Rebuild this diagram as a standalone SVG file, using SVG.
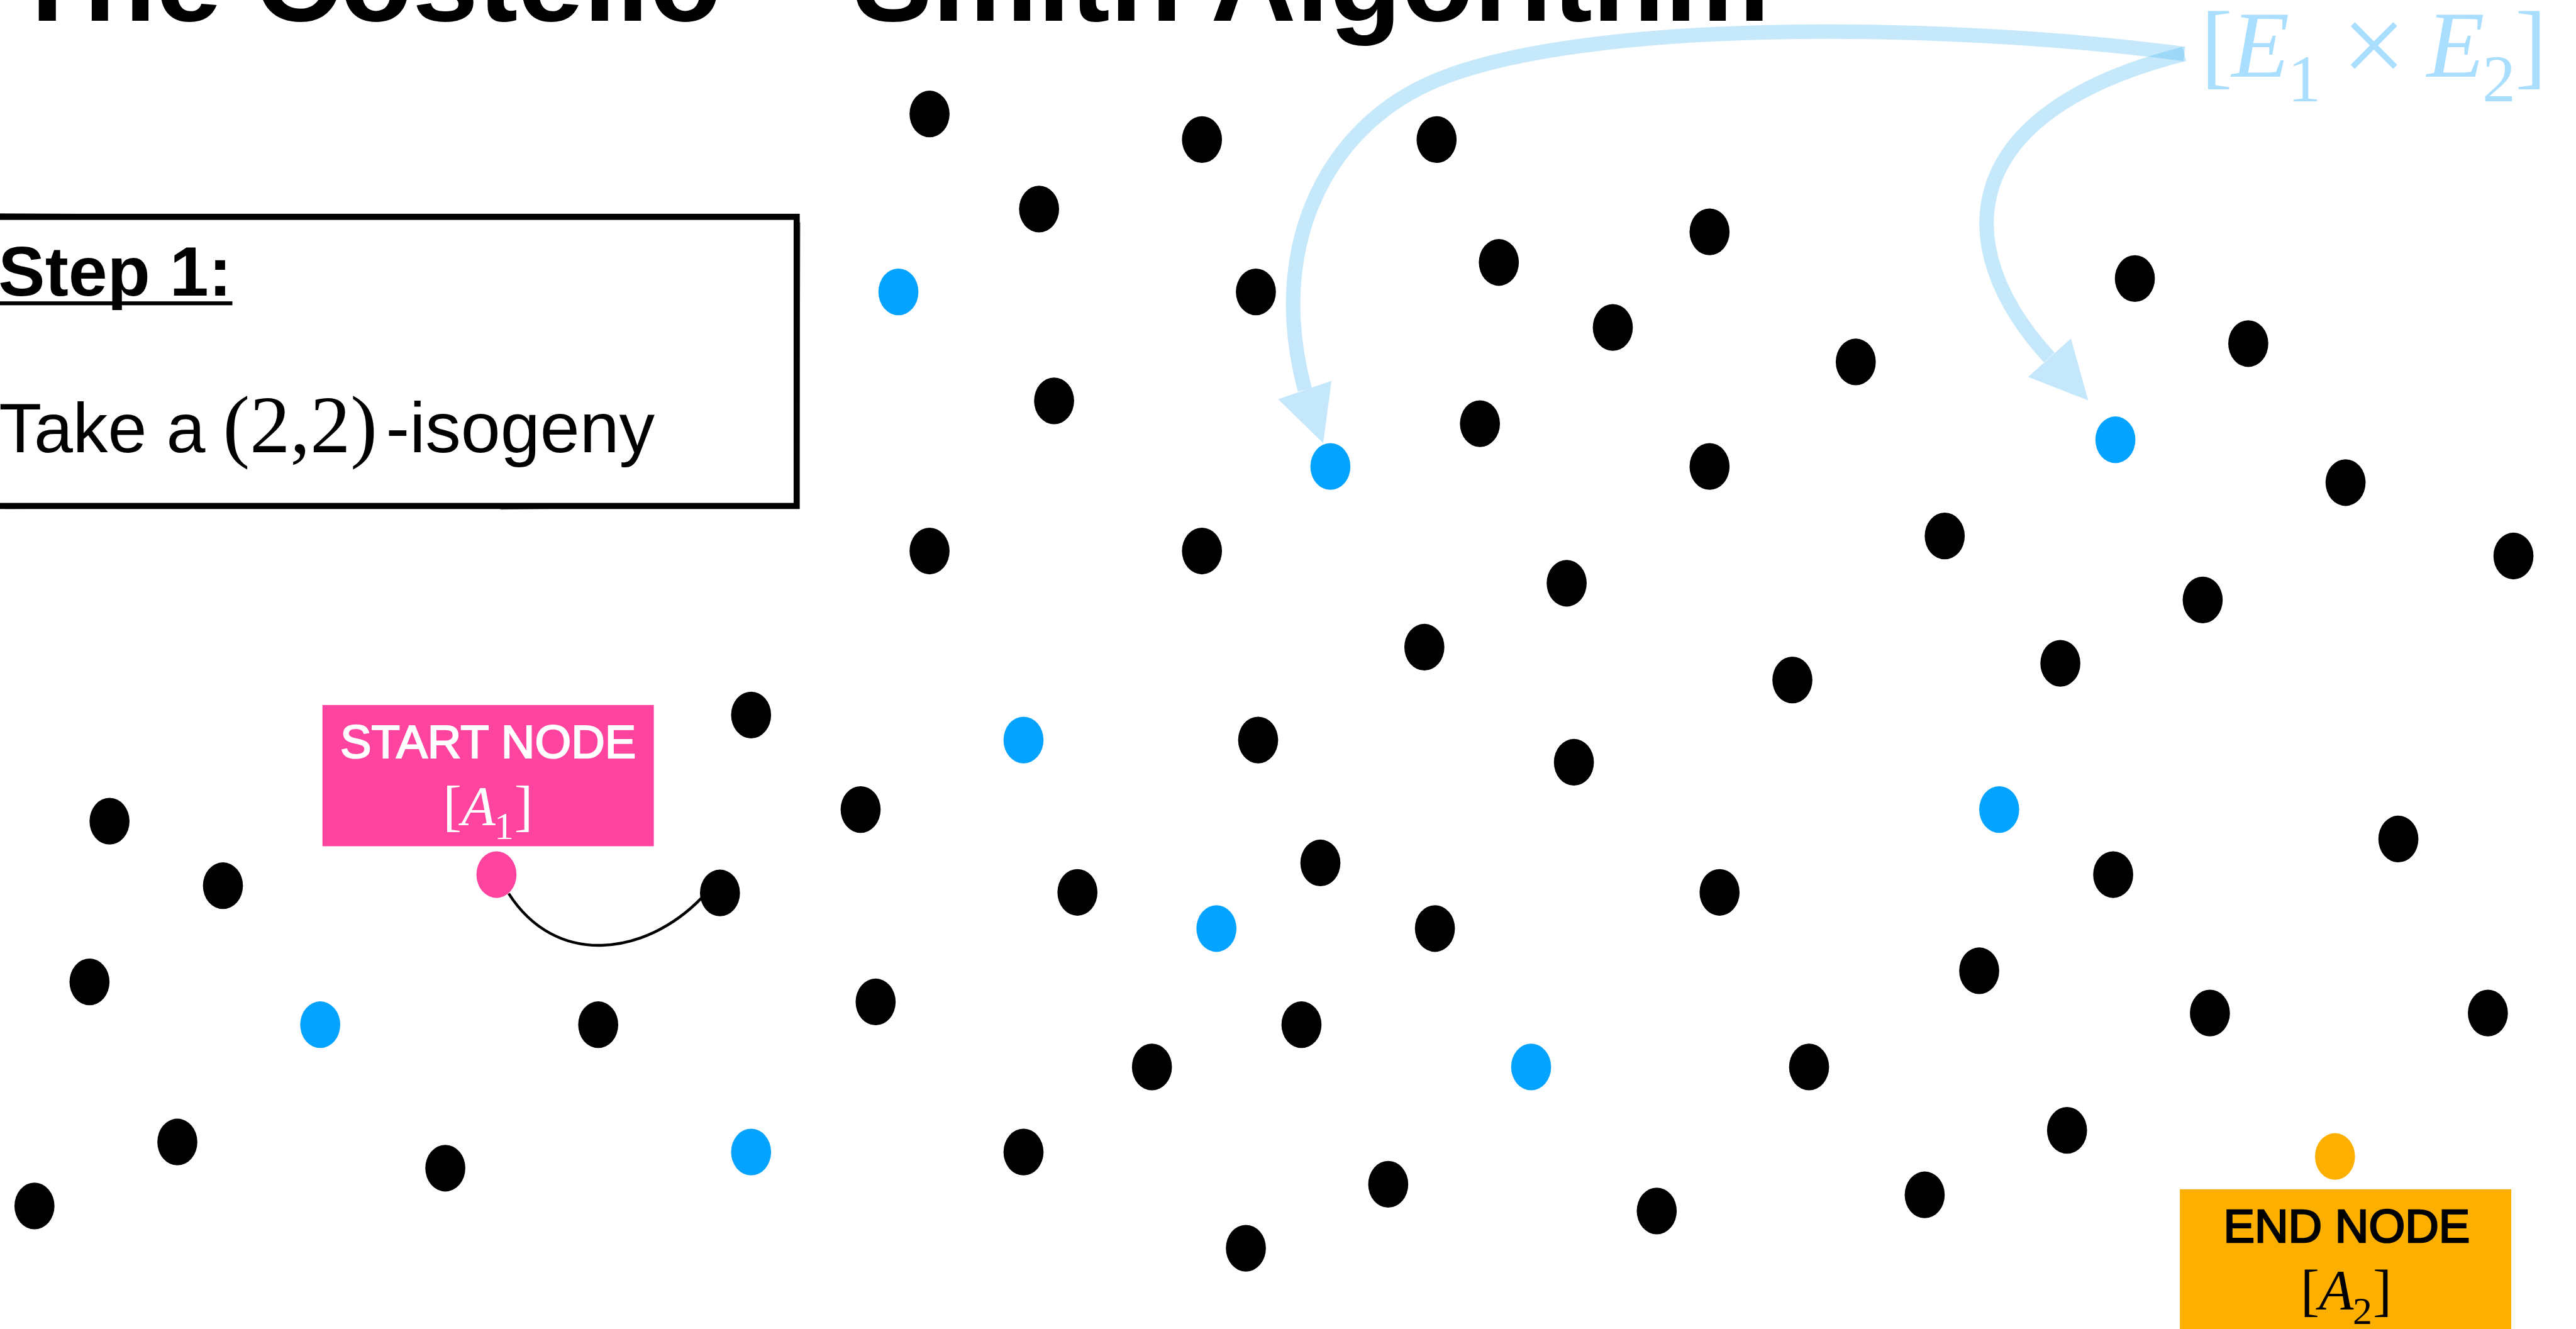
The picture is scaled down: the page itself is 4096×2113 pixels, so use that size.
<svg xmlns="http://www.w3.org/2000/svg" width="4096" height="2113" viewBox="0 0 4096 2113">
<style>
.bk{fill:#000000}
.bl{fill:#03A3FF}
.pk{fill:#FF44A0}
.or{fill:#FDAF00}
.sans{font-family:"Liberation Sans",Arial,Helvetica,sans-serif}
.serif{font-family:"Liberation Serif","Times New Roman",serif}
.arr{fill:none;stroke:#4FB9F3;stroke-width:26}
.ah{fill:#4FB9F3}
</style>
<rect x="0" y="0" width="4096" height="2113" fill="#ffffff"/>
<g transform="scale(0.884)">
  <g id="title">
    <text x="20" y="37" class="sans" font-size="213" font-weight="bold" fill="#000">The Costello – Smith Algorithm</text>
  </g>
  <g id="step-box">
    <rect x="-20" y="390" width="1453" height="520" fill="#fff" stroke="#000" stroke-width="11"/>
    <path d="M0,385 L400,388 M700,386 L1420,392 M10,914 L600,909 M900,915 L1400,907 M1438,400 L1436,900" stroke="#000" stroke-width="3" fill="none" opacity="0.6"/>
    <text x="-3" y="532" class="sans" font-size="126" font-weight="bold" fill="#000">Step 1:</text>
    <rect x="0" y="542" width="418" height="7" fill="#000"/>
    <text x="-2" y="813" class="sans" font-size="126" fill="#000">Take a</text>
    <text x="401" y="813" class="serif" font-size="145" fill="#000">(2,2)</text>
    <text x="694" y="813" class="sans" font-size="128" fill="#000">-isogeny</text>
  </g>
  <g id="connectors">
    <path id="edge-start" d="M915,1607 C1000,1740 1160,1720 1262,1615" fill="none" stroke="#000" stroke-width="5"/>
    <g id="arrow-to-b2" opacity="0.33">
      <path class="arr" d="M3929,97 C3500,40 2800,30 2550,160 C2380,248 2280,450 2347,701"/>
      <polygon class="ah" points="2299,718 2395,685 2380,797"/>
    </g>
    <g id="arrow-to-b3" opacity="0.33">
      <path class="arr" d="M3929,97 C3520,200 3500,440 3686,643"/>
      <polygon class="ah" points="3648,678 3725,609 3756,720"/>
    </g>
  </g>
  <g id="label-e1e2" fill="#A9DEFE">
    <text x="3959" y="138" class="serif" font-size="170">[</text>
    <text x="4014" y="138" class="serif" font-size="170" font-style="italic">E</text>
    <text x="4115" y="182" class="serif" font-size="120">1</text>
    <text x="4212" y="150" class="serif" font-size="205">×</text>
    <text x="4365" y="138" class="serif" font-size="170" font-style="italic">E</text>
    <text x="4465" y="182" class="serif" font-size="120">2</text>
    <text x="4524" y="138" class="serif" font-size="170">]</text>
  </g>
  <g id="start-node">
    <rect x="580" y="1268" width="596" height="254" class="pk"/>
    <text x="878" y="1363" class="sans" font-size="84" fill="#fff" stroke="#fff" stroke-width="2.5" text-anchor="middle">START NODE</text>
    <g fill="#fff">
      <text x="797" y="1483" class="serif" font-size="100">[</text>
      <text x="830" y="1483" class="serif" font-size="100" font-style="italic">A</text>
      <text x="889" y="1509" class="serif" font-size="70">1</text>
      <text x="925" y="1483" class="serif" font-size="100">]</text>
    </g>
    <ellipse cx="893" cy="1573" rx="36" ry="42" class="pk"/>
  </g>
  <g id="end-node">
    <rect x="3921" y="2139" width="596" height="260" class="or"/>
    <text x="4221" y="2234" class="sans" font-size="84" fill="#000" stroke="#000" stroke-width="3" text-anchor="middle">END NODE</text>
    <g fill="#000">
      <text x="4138" y="2355" class="serif" font-size="102">[</text>
      <text x="4171" y="2355" class="serif" font-size="102" font-style="italic">A</text>
      <text x="4232" y="2381" class="serif" font-size="70">2</text>
      <text x="4268" y="2355" class="serif" font-size="102">]</text>
    </g>
    <ellipse cx="4200" cy="2080" rx="36" ry="42" class="or"/>
  </g>
  <g id="blue-nodes">
    <g id="b1"><ellipse cx="1616" cy="525" rx="36" ry="42" class="bl"/></g>
    <g id="b2"><ellipse cx="2393" cy="839" rx="36" ry="42" class="bl"/></g>
    <g id="b3"><ellipse cx="3805" cy="791" rx="36" ry="42" class="bl"/></g>
    <g id="b4"><ellipse cx="1841" cy="1331" rx="36" ry="42" class="bl"/></g>
    <g id="b5"><ellipse cx="3596" cy="1456" rx="36" ry="42" class="bl"/></g>
    <g id="b6"><ellipse cx="2188" cy="1670" rx="36" ry="42" class="bl"/></g>
    <g id="b7"><ellipse cx="576" cy="1843" rx="36" ry="42" class="bl"/></g>
    <g id="b8"><ellipse cx="2754" cy="1919" rx="36" ry="42" class="bl"/></g>
    <g id="b9"><ellipse cx="1351" cy="2072" rx="36" ry="42" class="bl"/></g>
  </g>
  <g id="black-nodes">
    <g id="n1"><ellipse cx="1672" cy="205" rx="36" ry="42" class="bk"/></g>
    <g id="n2"><ellipse cx="2162" cy="251" rx="36" ry="42" class="bk"/></g>
    <g id="n3"><ellipse cx="2584" cy="251" rx="36" ry="42" class="bk"/></g>
    <g id="n4"><ellipse cx="1869" cy="376" rx="36" ry="42" class="bk"/></g>
    <g id="n5"><ellipse cx="2259" cy="525" rx="36" ry="42" class="bk"/></g>
    <g id="n6"><ellipse cx="2696" cy="472" rx="36" ry="42" class="bk"/></g>
    <g id="n7"><ellipse cx="3075" cy="417" rx="36" ry="42" class="bk"/></g>
    <g id="n8"><ellipse cx="2901" cy="589" rx="36" ry="42" class="bk"/></g>
    <g id="n9"><ellipse cx="3338" cy="651" rx="36" ry="42" class="bk"/></g>
    <g id="n10"><ellipse cx="3840" cy="501" rx="36" ry="42" class="bk"/></g>
    <g id="n11"><ellipse cx="4044" cy="618" rx="36" ry="42" class="bk"/></g>
    <g id="n12"><ellipse cx="1896" cy="721" rx="36" ry="42" class="bk"/></g>
    <g id="n13"><ellipse cx="2662" cy="762" rx="36" ry="42" class="bk"/></g>
    <g id="n14"><ellipse cx="3075" cy="839" rx="36" ry="42" class="bk"/></g>
    <g id="n15"><ellipse cx="4219" cy="868" rx="36" ry="42" class="bk"/></g>
    <g id="n16"><ellipse cx="1672" cy="991" rx="36" ry="42" class="bk"/></g>
    <g id="n17"><ellipse cx="2162" cy="991" rx="36" ry="42" class="bk"/></g>
    <g id="n18"><ellipse cx="3498" cy="964" rx="36" ry="42" class="bk"/></g>
    <g id="n19"><ellipse cx="2818" cy="1049" rx="36" ry="42" class="bk"/></g>
    <g id="n20"><ellipse cx="4521" cy="1000" rx="36" ry="42" class="bk"/></g>
    <g id="n21"><ellipse cx="3962" cy="1079" rx="36" ry="42" class="bk"/></g>
    <g id="n22"><ellipse cx="2562" cy="1164" rx="36" ry="42" class="bk"/></g>
    <g id="n23"><ellipse cx="3224" cy="1223" rx="36" ry="42" class="bk"/></g>
    <g id="n24"><ellipse cx="3706" cy="1193" rx="36" ry="42" class="bk"/></g>
    <g id="n25"><ellipse cx="1351" cy="1286" rx="36" ry="42" class="bk"/></g>
    <g id="n26"><ellipse cx="2263" cy="1331" rx="36" ry="42" class="bk"/></g>
    <g id="n27"><ellipse cx="2831" cy="1371" rx="36" ry="42" class="bk"/></g>
    <g id="n28"><ellipse cx="197" cy="1477" rx="36" ry="42" class="bk"/></g>
    <g id="n29"><ellipse cx="1548" cy="1456" rx="36" ry="42" class="bk"/></g>
    <g id="n30"><ellipse cx="401" cy="1593" rx="36" ry="42" class="bk"/></g>
    <g id="n31"><ellipse cx="1295" cy="1606" rx="36" ry="42" class="bk"/></g>
    <g id="n32"><ellipse cx="1938" cy="1605" rx="36" ry="42" class="bk"/></g>
    <g id="n33"><ellipse cx="2375" cy="1552" rx="36" ry="42" class="bk"/></g>
    <g id="n34"><ellipse cx="3093" cy="1605" rx="36" ry="42" class="bk"/></g>
    <g id="n35"><ellipse cx="3801" cy="1573" rx="36" ry="42" class="bk"/></g>
    <g id="n36"><ellipse cx="4314" cy="1509" rx="36" ry="42" class="bk"/></g>
    <g id="n37"><ellipse cx="2581" cy="1670" rx="36" ry="42" class="bk"/></g>
    <g id="n38"><ellipse cx="161" cy="1766" rx="36" ry="42" class="bk"/></g>
    <g id="n39"><ellipse cx="1575" cy="1802" rx="36" ry="42" class="bk"/></g>
    <g id="n40"><ellipse cx="1076" cy="1843" rx="36" ry="42" class="bk"/></g>
    <g id="n41"><ellipse cx="2341" cy="1843" rx="36" ry="42" class="bk"/></g>
    <g id="n42"><ellipse cx="3560" cy="1746" rx="36" ry="42" class="bk"/></g>
    <g id="n43"><ellipse cx="3975" cy="1822" rx="36" ry="42" class="bk"/></g>
    <g id="n44"><ellipse cx="4475" cy="1822" rx="36" ry="42" class="bk"/></g>
    <g id="n45"><ellipse cx="2072" cy="1919" rx="36" ry="42" class="bk"/></g>
    <g id="n46"><ellipse cx="3254" cy="1919" rx="36" ry="42" class="bk"/></g>
    <g id="n47"><ellipse cx="319" cy="2054" rx="36" ry="42" class="bk"/></g>
    <g id="n48"><ellipse cx="801" cy="2101" rx="36" ry="42" class="bk"/></g>
    <g id="n49"><ellipse cx="1841" cy="2072" rx="36" ry="42" class="bk"/></g>
    <g id="n50"><ellipse cx="3718" cy="2033" rx="36" ry="42" class="bk"/></g>
    <g id="n51"><ellipse cx="2497" cy="2130" rx="36" ry="42" class="bk"/></g>
    <g id="n52"><ellipse cx="2980" cy="2178" rx="36" ry="42" class="bk"/></g>
    <g id="n53"><ellipse cx="3462" cy="2149" rx="36" ry="42" class="bk"/></g>
    <g id="n54"><ellipse cx="62" cy="2169" rx="36" ry="42" class="bk"/></g>
    <g id="n55"><ellipse cx="2241" cy="2245" rx="36" ry="42" class="bk"/></g>
  </g>
</g>
</svg>
